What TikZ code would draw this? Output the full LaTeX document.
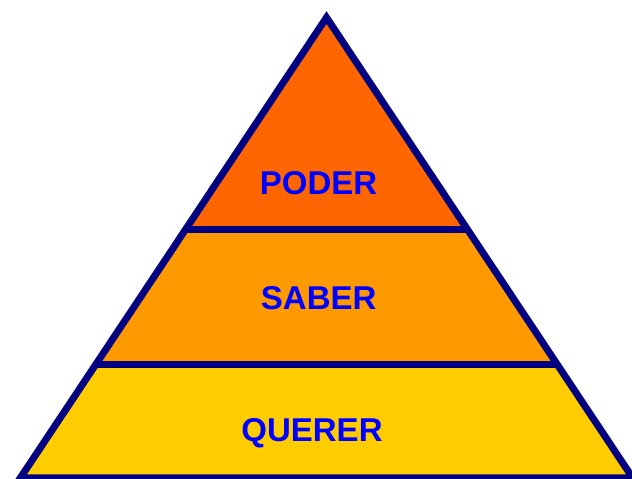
\documentclass[tikz,border=0pt]{standalone}
\usepackage{fontspec}
\setmainfont{Liberation Sans}
\definecolor{navyline}{HTML}{000080}
\definecolor{topfill}{HTML}{FF6600}
\definecolor{midfill}{HTML}{FF9900}
\definecolor{lowfill}{HTML}{FFCC00}
\definecolor{textblue}{HTML}{0000FF}
\tikzset{
  level/.style = {font=\fontsize{33}{33}\selectfont\bfseries,
                  text=textblue, anchor=base, inner sep=0pt}
}

\begin{document}
\begin{tikzpicture}[x=1pt, y=1pt]
	\def \cx{326.5}     % apex x
	\def \apexy{461.5}  % apex y
	\def \s{0.665}      % half width per unit height
	\def \ya{249}       % upper divider
	\def \yb{114}       % lower divider
	\def \yc{1}         % base

	\useasboundingbox (0,0) rectangle (632,479);

	% Bands
	\fill[lowfill] ({\cx-\s*(\apexy-\yb)},\yb) -- ({\cx+\s*(\apexy-\yb)},\yb)
		-- ({\cx+\s*(\apexy-\yc)},\yc) -- ({\cx-\s*(\apexy-\yc)},\yc) -- cycle;
	\fill[midfill] ({\cx-\s*(\apexy-\ya)},\ya) -- ({\cx+\s*(\apexy-\ya)},\ya)
		-- ({\cx+\s*(\apexy-\yb)},\yb) -- ({\cx-\s*(\apexy-\yb)},\yb) -- cycle;
	\fill[topfill] (\cx,\apexy) -- ({\cx+\s*(\apexy-\ya)},\ya)
		-- ({\cx-\s*(\apexy-\ya)},\ya) -- cycle;

	% Dividers
	\draw[navyline, line width=7] ({\cx-\s*(\apexy-\ya)},\ya) -- ({\cx+\s*(\apexy-\ya)},\ya);
	\draw[navyline, line width=7] ({\cx-\s*(\apexy-\yb)},\yb) -- ({\cx+\s*(\apexy-\yb)},\yb);

	% Outline
	\draw[navyline, line width=7] (\cx,\apexy) -- ({\cx+\s*(\apexy-\yc)},\yc)
		-- ({\cx-\s*(\apexy-\yc)},\yc) -- cycle;

	% Labels
	\node[level] (poder)  at (318.5,284) {PODER};
	\node[level] (saber)  at (318.7,169) {SABER};
	\node[level] (querer) at (312,37)    {QUERER};
\end{tikzpicture}
\end{document}
